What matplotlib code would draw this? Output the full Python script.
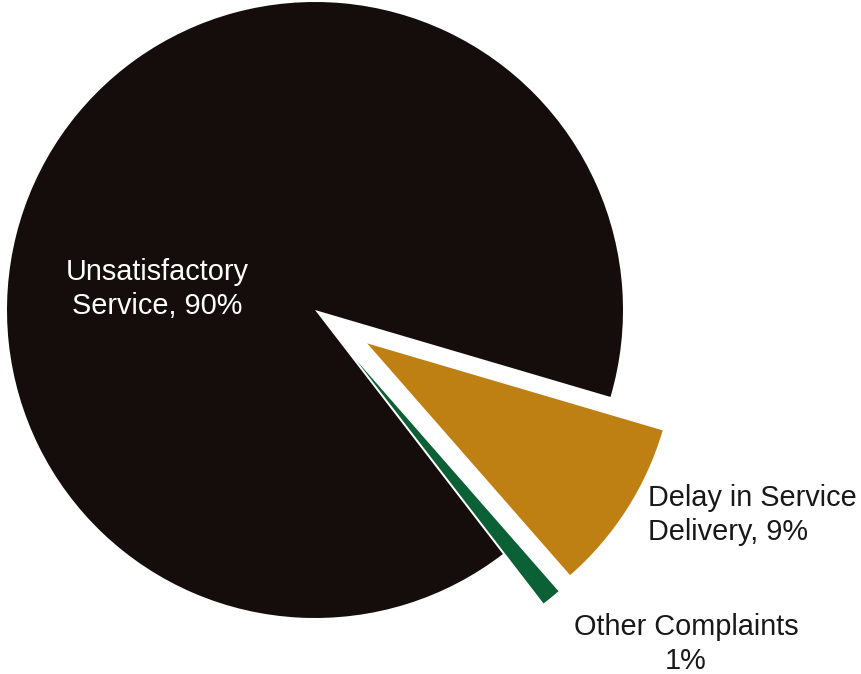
import matplotlib.pyplot as plt

# Complaint categories and their shares (%)
labels = ["Unsatisfactory\nService, 90%", "Delay in Service\nDelivery, 9%", "Other Complaints\n1%"]
shares = [90, 9, 1]
colors = ["#140d0c", "#bf8013", "#0b6036"]
explode = [0, 62, 64]

plt.rcParams["font.family"] = ["Liberation Sans", "DejaVu Sans"]

fig = plt.figure(figsize=(8.62, 6.74), dpi=100)
ax = fig.add_axes([0, 0, 1, 1])

# Pie is laid out in pixel-like data units
ax.pie(shares, colors=colors, explode=explode, radius=308, center=(315, 364),
       startangle=307.6, counterclock=False, frame=True,
       wedgeprops=dict(linewidth=0))

ax.set_xlim(0, 862)
ax.set_ylim(0, 674)
ax.set_aspect("equal")
ax.axis("off")

ax.text(157, 674 - 289, labels[0], color="white", fontsize=20.8,
        ha="center", va="center", linespacing=1.3)
ax.text(648, 674 - 515, labels[1], color="#181818", fontsize=20.8,
        ha="left", va="center", linespacing=1.3)
ax.text(686, 674 - 644, labels[2], color="#181818", fontsize=20.8,
        ha="center", va="center", linespacing=1.3)

fig.savefig("out.png", dpi=100, facecolor="white")
